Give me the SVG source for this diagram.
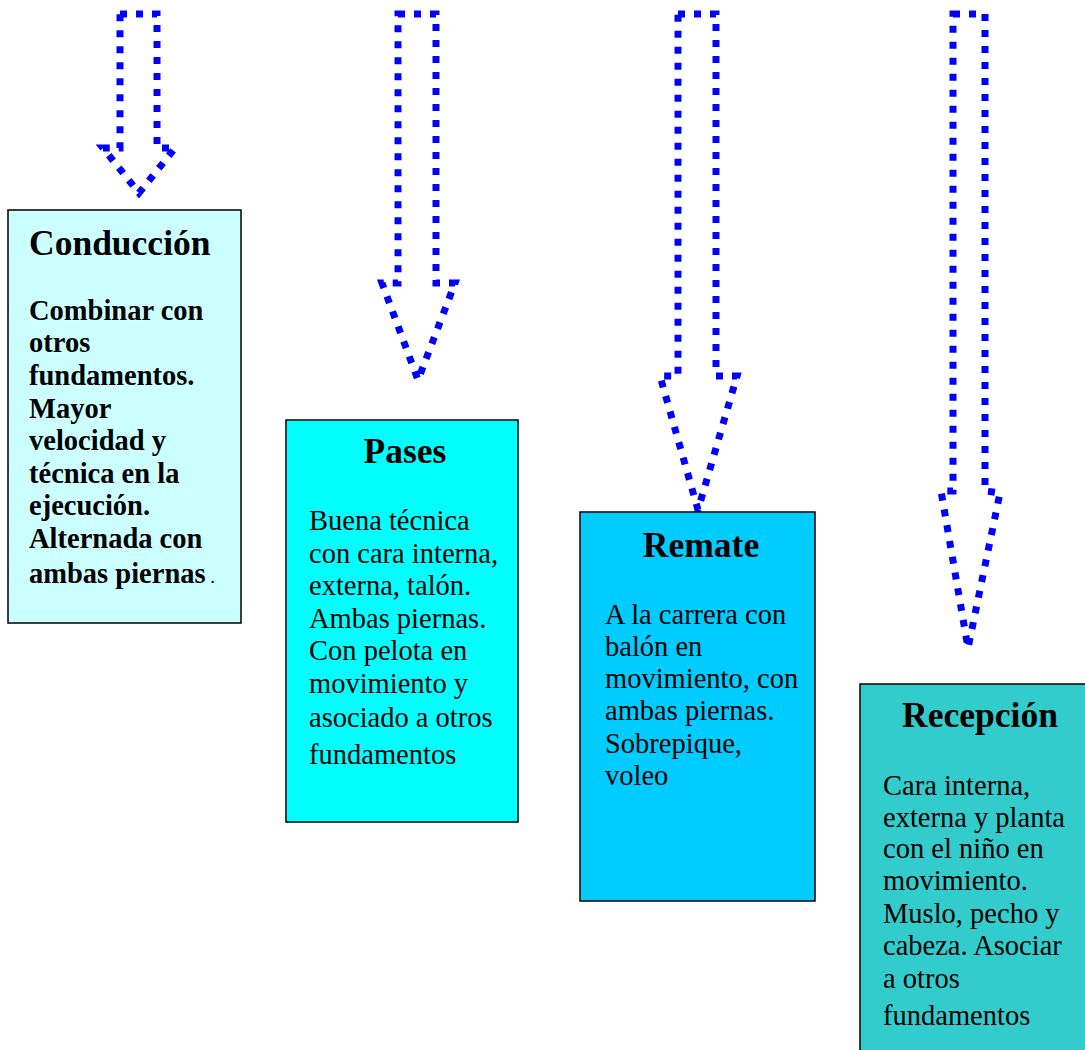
<svg xmlns="http://www.w3.org/2000/svg" width="1085" height="1050" viewBox="0 0 1085 1050">
<style>
.arrow{fill:none;stroke:#0000FF;stroke-width:7;stroke-dasharray:7 9;stroke-linejoin:miter}
.box{stroke:#000;stroke-width:1.5}
.title{font-family:"Liberation Serif",serif;font-weight:bold;font-size:35.5px;fill:#000}
.bb{font-family:"Liberation Serif",serif;font-weight:bold;font-size:28.5px;fill:#000}
.br{font-family:"Liberation Serif",serif;font-size:28.5px;fill:#000}
</style>
<rect width="1085" height="1050" fill="#fff"/>
<g id="connectors">
<polygon class="arrow" points="120,14 157,14 157,148 175,148 139,193 103,148 120,148"/>
<polygon class="arrow" points="398,14 436,14 436,283 455,283 418,380 382,283 398,283"/>
<polygon class="arrow" points="678,14 716,14 716,376 737,376 698,510 660,376 678,376"/>
<polygon class="arrow" points="953,14 985,14 985,491 1000,493 968,648 941,491 953,491"/>
</g>
<g id="conduccion">
<rect class="box" x="8" y="210" width="233" height="413" fill="#CCFFFF"/>
<text class="title" x="29" y="255">Conducción</text>
<text class="bb" x="29" y="320">Combinar con</text>
<text class="bb" x="29" y="352">otros</text>
<text class="bb" x="29" y="385">fundamentos.</text>
<text class="bb" x="29" y="418">Mayor</text>
<text class="bb" x="29" y="450">velocidad y</text>
<text class="bb" x="29" y="483">técnica en la</text>
<text class="bb" x="29" y="515">ejecución.</text>
<text class="bb" x="29" y="548">Alternada con</text>
<text class="bb" x="29" y="583">ambas piernas<tspan font-size="19" font-weight="normal"> .</tspan></text>
</g>
<g id="pases">
<rect class="box" x="286" y="420" width="232" height="402" fill="#00FFFF"/>
<text class="title" x="405" y="463" text-anchor="middle">Pases</text>
<text class="br" x="309" y="530">Buena técnica</text>
<text class="br" x="309" y="563">con cara interna,</text>
<text class="br" x="309" y="595">externa, talón.</text>
<text class="br" x="309" y="628">Ambas piernas.</text>
<text class="br" x="309" y="660">Con pelota en</text>
<text class="br" x="309" y="693">movimiento y</text>
<text class="br" x="309" y="727">asociado a otros</text>
<text class="br" x="309" y="764">fundamentos</text>
</g>
<g id="remate">
<rect class="box" x="580" y="512" width="235" height="389" fill="#00CCFF"/>
<text class="title" x="701" y="557" text-anchor="middle">Remate</text>
<text class="br" x="605" y="624">A la carrera con</text>
<text class="br" x="605" y="656">balón en</text>
<text class="br" x="605" y="688">movimiento, con</text>
<text class="br" x="605" y="720">ambas piernas.</text>
<text class="br" x="605" y="753">Sobrepique,</text>
<text class="br" x="605" y="785">voleo</text>
</g>
<g id="recepcion">
<rect class="box" x="860" y="684" width="232" height="380" fill="#33CCCC"/>
<text class="title" x="980" y="727" text-anchor="middle">Recepción</text>
<text class="br" x="883" y="795">Cara interna,</text>
<text class="br" x="883" y="827">externa y planta</text>
<text class="br" x="883" y="858">con el niño en</text>
<text class="br" x="883" y="890">movimiento.</text>
<text class="br" x="883" y="923">Muslo, pecho y</text>
<text class="br" x="883" y="955">cabeza. Asociar</text>
<text class="br" x="883" y="988">a otros</text>
<text class="br" x="883" y="1025">fundamentos</text>
</g>
</svg>
